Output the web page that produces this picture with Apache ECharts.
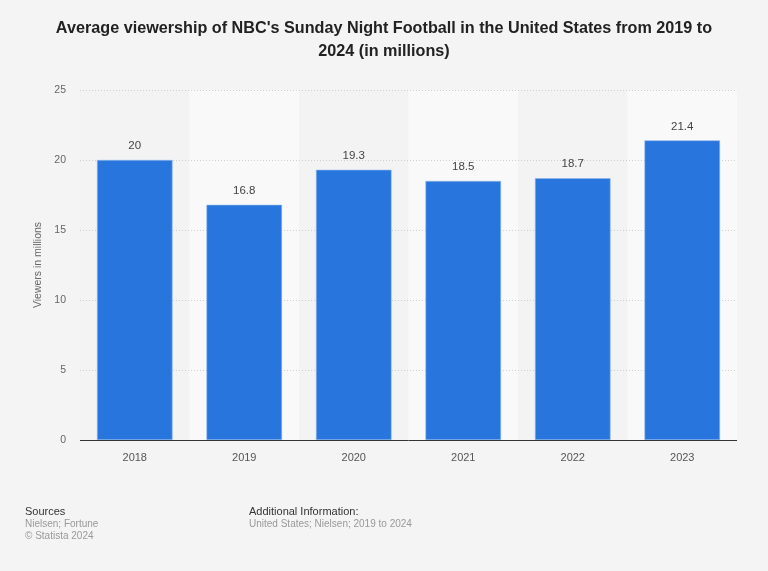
<!DOCTYPE html>
<html>
<head>
<meta charset="utf-8">
<script src="https://cdn.jsdelivr.net/npm/echarts@6/dist/echarts.min.js"></script>
<style>
  html, body { margin: 0; padding: 0; background: #f4f4f4; }
  #chart { width: 768px; height: 571px; }
</style>
</head>
<body>
<div id="chart"></div>
<script>
// data
var years = ["2018", "2019", "2020", "2021", "2022", "2023"];
var viewers = [20, 16.8, 19.3, 18.5, 18.7, 21.4];
var yTicks = [0, 5, 10, 15, 20, 25];

var myChart = echarts.init(document.getElementById("chart"));
var font = "'Liberation Sans', Arial, sans-serif";

var option = {
  backgroundColor: "#f4f4f4",
  textStyle: { fontFamily: font },
  title: {
    text: "Average viewership of NBC's Sunday Night Football in the United States from 2019 to\n2024 (in millions)",
    left: "center",
    top: 12,
    textStyle: { fontSize: 16.2, fontWeight: "bold", color: "#222", lineHeight: 23, fontFamily: font }
  },
  grid: { left: 80, right: 31, top: 90, bottom: 131 },
  xAxis: {
    type: "category",
    data: years,
    z: 0,
    axisTick: { show: false },
    axisLine: { show: false },
    axisLabel: { color: "#555", fontSize: 11, margin: 12 },
    splitArea: { show: true, areaStyle: { color: ["#f3f3f3", "#f9f9f9"] } }
  },
  yAxis: {
    type: "value",
    z: 1,
    min: yTicks[0],
    max: yTicks[yTicks.length - 1],
    interval: 5,
    name: "Viewers in millions",
    nameLocation: "middle",
    nameGap: 26,
    nameTextStyle: { color: "#666", fontSize: 10.5 },
    axisLine: { show: false },
    axisTick: { show: false },
    axisLabel: { color: "#666", fontSize: 10.5, margin: 14 },
    splitLine: { lineStyle: { color: "#cfcfcf", type: [1, 2], width: 1 } }
  },
  series: [{
    type: "bar",
    z: 2,
    data: viewers,
    barCategoryGap: "31%",
    itemStyle: { color: "#2876dd", borderColor: "#8bb6ee", borderWidth: 0.6 },
    label: { show: true, position: "top", distance: 8, color: "#444", fontSize: 11.5 },
    markLine: {
      silent: true,
      symbol: "none",
      label: { show: false },
      lineStyle: { color: "#333", type: "solid", width: 1 },
      data: [{ yAxis: 0 }]
    }
  }],
  graphic: [
    { type: "text", left: 25, top: 506, style: { text: "Sources", fill: "#333", font: "11px " + font } },
    { type: "text", left: 25, top: 519, style: { text: "Nielsen; Fortune", fill: "#999", font: "10px " + font } },
    { type: "text", left: 25, top: 531, style: { text: "© Statista 2024", fill: "#999", font: "10px " + font } },
    { type: "text", left: 249, top: 506, style: { text: "Additional Information:", fill: "#333", font: "11px " + font } },
    { type: "text", left: 249, top: 519, style: { text: "United States; Nielsen; 2019 to 2024", fill: "#999", font: "10px " + font } }
  ]
};

myChart.setOption(option);
</script>
</body>
</html>
